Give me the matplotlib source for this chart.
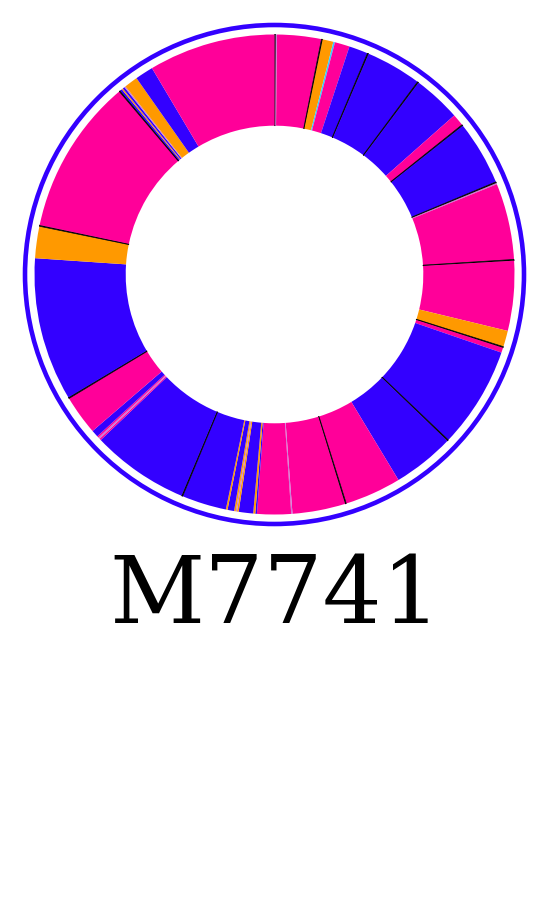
import matplotlib
matplotlib.use("Agg")
import matplotlib.pyplot as plt
from matplotlib.patches import Circle

# wedge sizes in degrees, clockwise from 12 o'clock
sizes = [0.3, 0.3, 10.7, 0.3, 2.6, 0.4, 3.6, 4.6, 0.3, 13.5, 0.3, 11.6,
         2.9, 0.3, 15.6, 0.3, 0.3, 18.5, 0.3, 16.9, 3.9, 0.3, 1.2, 24.6,
         0.3, 15.0, 13.7, 0.3, 12.8, 0.3, 8.2, 0.4, 0.5, 3.5, 0.4, 0.3,
         0.4, 1.6, 0.4, 10.8, 0.3, 23.6, 0.4, 0.4, 0.4, 1.7, 9.6, 0.3,
         34.7, 7.7, 0.3, 37.8, 0.3, 0.5, 0.3, 0.5, 0.3, 3.3, 4.4, 30.7]
kinds = ["k", "l", "m", "k", "o", "c", "m", "b", "k", "b", "k", "b",
         "m", "k", "b", "k", "l", "m", "k", "m", "o", "k", "m", "b",
         "k", "b", "m", "k", "m", "l", "m", "b", "o", "b", "o", "l",
         "o", "b", "o", "b", "k", "b", "m", "l", "m", "b", "m", "k",
         "b", "o", "k", "m", "k", "b", "o", "b", "l", "o", "b", "m"]
palette = {"m": "#FF0099", "b": "#3300FF", "o": "#FF9900",
           "c": "#33CCFF", "l": "#C87AD8", "k": "#000000"}
title = "M7741"

W, H = 550, 900
cx, cy = 274.5, H - 274.5
R_OUT, R_RING = 240, 249.5

fig = plt.figure(figsize=(W / 100, H / 100), dpi=100)
ax = fig.add_axes([0, 0, 1, 1])
wedges, _ = ax.pie(sizes, colors=[palette[k] for k in kinds], startangle=90,
                   counterclock=False, center=(cx, cy), radius=R_OUT,
                   wedgeprops=dict(width=R_OUT * 0.38, linewidth=0))
# thin black slices read as crisp lines in the reference
for w, k in zip(wedges, kinds):
    if k == "k":
        w.set_edgecolor("black"); w.set_linewidth(0.5)
ax.add_patch(Circle((cx, cy), R_RING, fill=False, edgecolor="#3300FF", lw=3.3))
ax.set_xlim(0, W); ax.set_ylim(0, H)
ax.set_aspect("equal"); ax.axis("off")

fig.text(0.5, 1 - 623 / H, title, ha="center", va="baseline",
         fontsize=67, family="DejaVu Serif")
fig.savefig("out.png", dpi=100)
